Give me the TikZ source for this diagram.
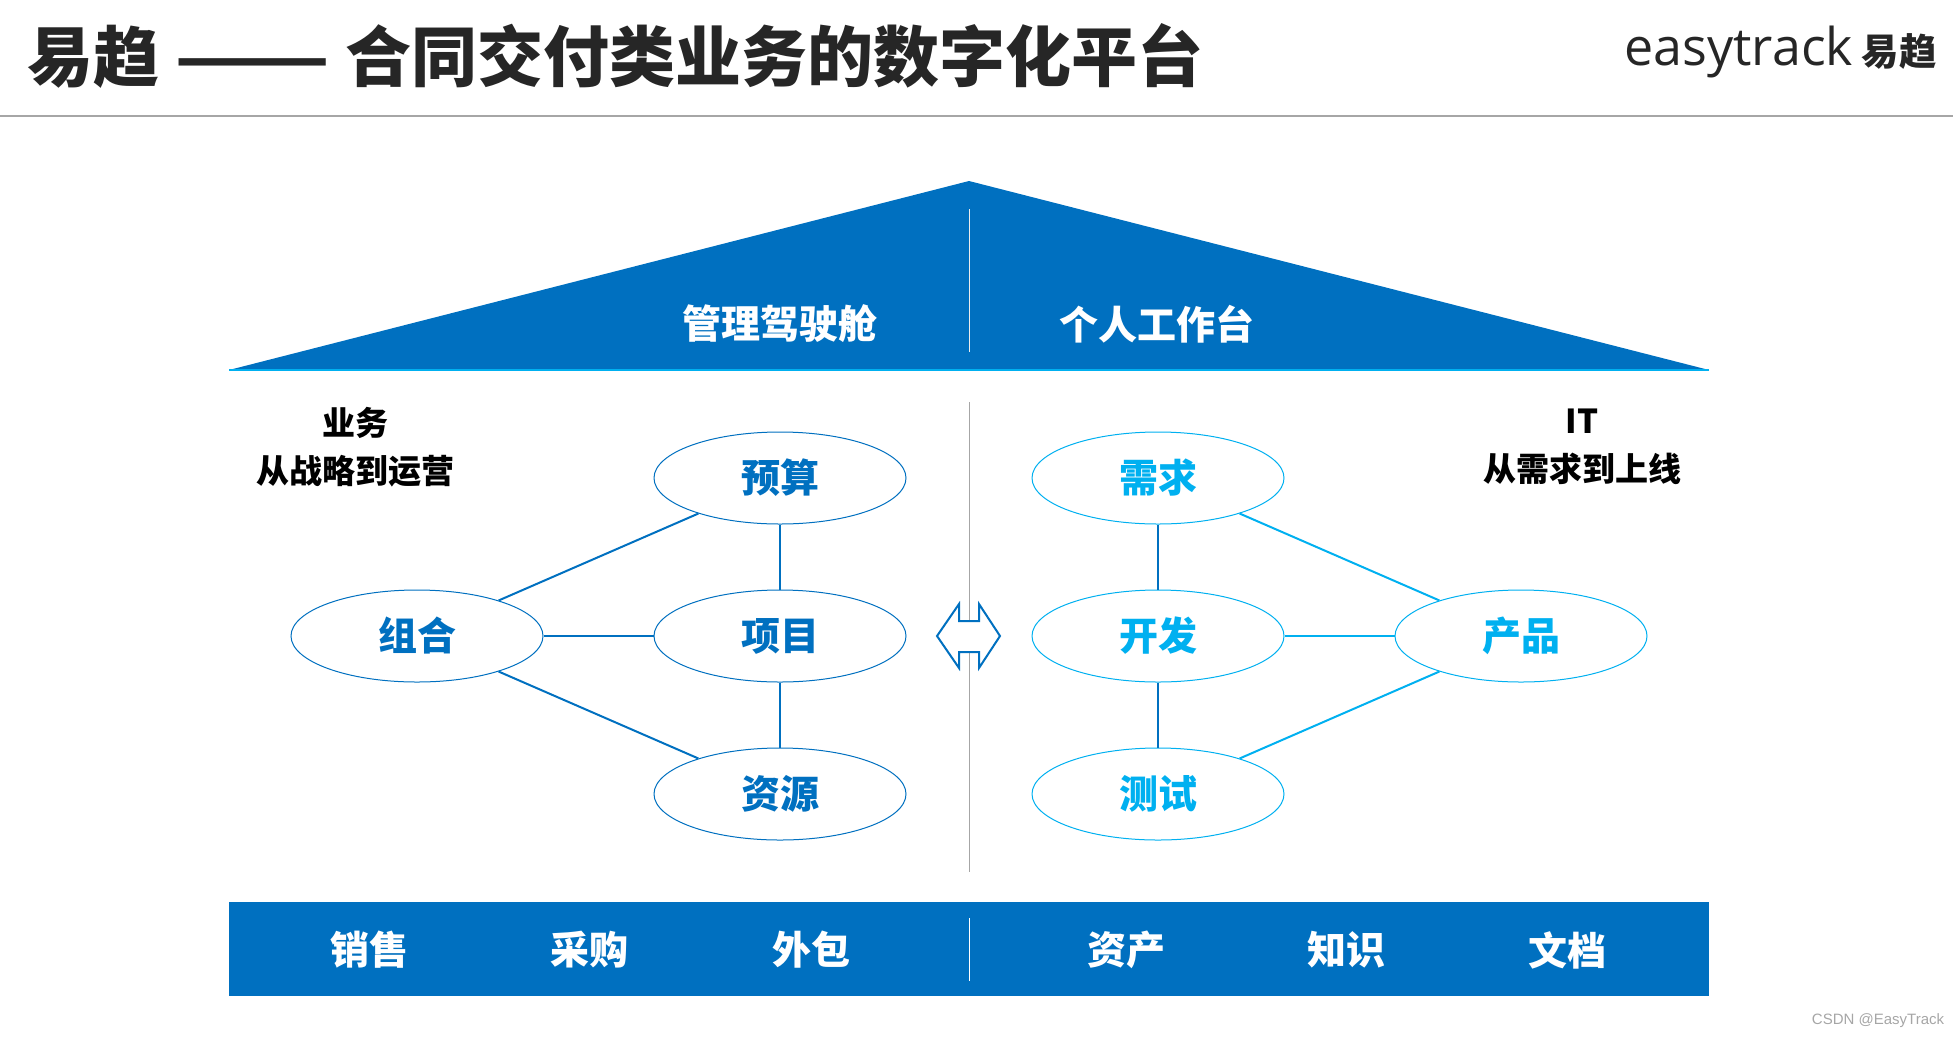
\documentclass[tikz,border=0pt]{standalone}
\usepackage{fontspec}
\setmainfont{Open Sans}
\newfontfamily\cjk{Noto Sans CJK SC}
\newfontfamily\arial{Liberation Sans}
\usetikzlibrary{positioning, shapes.geometric}
\definecolor{dblue}{HTML}{0070C0}
\definecolor{lblue}{HTML}{00B0F0}
\definecolor{ink}{HTML}{262626}
\definecolor{rule}{HTML}{A6A6A6}

\begin{document}
\begin{tikzpicture}[x=0.5pt, y=-0.5pt, node distance = 79pt and 181.5pt, on grid,
    bub/.style = {ellipse, draw, fill=white, line width=0.5pt, minimum width=126pt,
      minimum height=46pt, inner sep=0pt, font=\cjk\bfseries\fontsize{19.5}{20}\selectfont},
    biz/.style = {bub, draw=dblue, text=dblue},
    it/.style = {bub, draw=lblue, text=lblue},
    head/.style = {align=center, font=\cjk\bfseries\fontsize{16.5}{24}\selectfont},
    roof/.style = {text=white, font=\cjk\bfseries\fontsize{19.5}{20}\selectfont}]
  \useasboundingbox (0,0) rectangle (1953,1039);

  \node[anchor=west, inner sep=0pt, text=ink, font=\cjk\bfseries\fontsize{33}{36}\selectfont]
    (title) at (27,56) {易趋 \scalebox{1.38}[1]{——} 合同交付类业务的数字化平台};
  \node[anchor=east, inner sep=0pt, text=ink] (logo) at (1937,52)
    {\fontsize{26}{28}\selectfont easytrack\,{\cjk\bfseries\fontsize{18.7}{20}\selectfont 易趋}};
  \draw[rule, line width=1pt] (0,116) -- (1953,116);

  \fill[dblue] (229,370) -- (969,181) -- (1709,370) -- cycle;
  \draw[lblue, line width=1pt] (229,370) -- (1709,370);
  \draw[white!85!gray, line width=0.5pt] (969,209) -- (969,352);
  \node[roof] (cockpit) at (780,324) {管理驾驶舱};
  \node[roof] (desk) at (1157,324) {个人工作台};

  \node[head] (bizhead) at (355,447) {业务\\从战略到运营};
  \node[head] (ithead) at (1582,447) {IT\\从需求到上线};

  \draw[rule, line width=0.5pt] (969,402) -- (969,872);
  \draw[dblue, fill=white, line width=1pt] (937,636) -- ++(22,-32) -- ++(0,17) -- ++(20,0)
    -- ++(0,-17) -- ++(21,32) -- ++(-21,32) -- ++(0,-16) -- ++(-20,0) -- ++(0,16) -- cycle;

  \node[biz] (J) at (780,636) {项目};
  \node[biz] (B) [above=of J] {预算};
  \node[biz] (R) [below=of J] {资源};
  \node[biz] (P) [left=of J] {组合};

  \node[it] (D) at (1158,636) {开发};
  \node[it] (Q) [above=of D] {需求};
  \node[it] (T) [below=of D] {测试};
  \node[it] (C) [right=of D] {产品};

  \path[dblue, line width=1pt]
    (P) edge (B)
        edge (J)
        edge (R)
    (J) edge (B)
        edge (R)
    (D) edge (Q)
        edge (T);
  \path[lblue, line width=1pt]
    (C) edge (Q)
        edge (D)
        edge (T);

  \fill[dblue] (229,902) rectangle (1709,996);
  \draw[white, line width=0.5pt] (969,918) -- (969,981);
  \foreach \x/\name/\txt in {369/sale/销售, 589/buy/采购, 811/outs/外包,
                             1126/asset/资产, 1346/know/知识, 1567/doc/文档}
    \node[roof] (\name) at (\x,950) {\txt};

  \node[text=rule, font=\arial\fontsize{7.5}{9}\selectfont] (csdn) at (1878,1021) {CSDN @EasyTrack};
\end{tikzpicture}
\end{document}
